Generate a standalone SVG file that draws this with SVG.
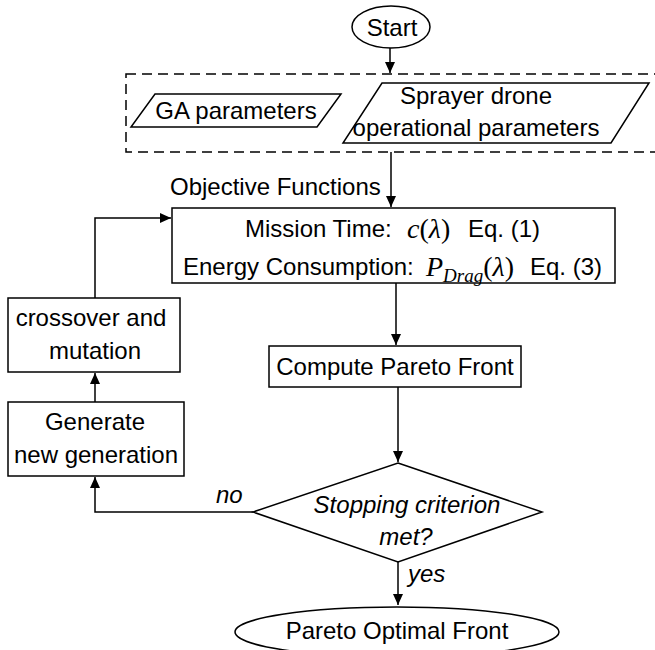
<svg xmlns="http://www.w3.org/2000/svg" width="655" height="650" viewBox="0 0 655 650">
<style>
.s{fill:#fff;stroke:#000;stroke-width:1.5}
.t{font-family:"Liberation Sans",Arial,sans-serif;font-size:24px;fill:#000}
.m{font-family:"Liberation Serif","Times New Roman",serif;font-size:28px;fill:#000}
.c{fill:none;stroke:#000;stroke-width:1.5}
</style>
<defs>
<marker id="a" markerWidth="12" markerHeight="12" refX="11" refY="5" orient="auto" markerUnits="userSpaceOnUse">
<path d="M0,0 L11,5 L0,10 Z" fill="#000"/>
</marker>
</defs>
<rect width="655" height="650" fill="#fff"/>
<g id="connectors">
<line class="c" x1="390" y1="48" x2="390" y2="73" marker-end="url(#a)"/>
<line class="c" x1="391" y1="152" x2="391" y2="207" marker-end="url(#a)"/>
<line class="c" x1="396" y1="283" x2="396" y2="345" marker-end="url(#a)"/>
<line class="c" x1="398" y1="387" x2="398" y2="462" marker-end="url(#a)"/>
<line class="c" x1="398" y1="562" x2="398" y2="605" marker-end="url(#a)"/>
<polyline class="c" points="253,512 95,512 95,477" marker-end="url(#a)"/>
<line class="c" x1="95" y1="402" x2="95" y2="373" marker-end="url(#a)"/>
<polyline class="c" points="95,298 95,218 171,218" marker-end="url(#a)"/>
<text class="t" x="216" y="503" font-style="italic">no</text>
<text class="t" x="408" y="582" font-style="italic">yes</text>
<text class="t" x="170" y="195">Objective Functions</text>
</g>
<g id="start">
<ellipse class="s" cx="391" cy="27" rx="39" ry="21"/>
<text class="t" x="392" y="36" text-anchor="middle">Start</text>
</g>
<g id="inputs">
<rect x="126" y="74" width="540" height="78" fill="none" stroke="#000" stroke-width="1.5" stroke-dasharray="10,6"/>
</g>
<g id="ga">
<polygon class="s" points="155,94 341,94 317,127 131,127"/>
<text class="t" x="236" y="119" text-anchor="middle">GA parameters</text>
</g>
<g id="sprayer">
<polygon class="s" points="382,83 649,83 611,143 343,143"/>
<text class="t" x="476" y="104" text-anchor="middle">Sprayer drone</text>
<text class="t" x="476" y="136" text-anchor="middle">operational parameters</text>
</g>
<g id="objective">
<rect class="s" x="172" y="208" width="443" height="75"/>
<text class="t" x="245" y="237">Mission Time:</text>
<text class="m" x="407" y="238"><tspan font-style="italic">c</tspan>(<tspan font-style="italic">λ</tspan>)</text>
<text class="t" x="468" y="237">Eq. (1)</text>
<text class="t" x="183" y="275">Energy Consumption:</text>
<text class="m" x="426" y="276"><tspan font-style="italic">P</tspan><tspan font-style="italic" font-size="19" dy="6">Drag</tspan><tspan dy="-6">(</tspan><tspan font-style="italic">λ</tspan>)</text>
<text class="t" x="530" y="275">Eq. (3)</text>
</g>
<g id="compute">
<rect class="s" x="269" y="346" width="252" height="41"/>
<text class="t" x="395" y="375" text-anchor="middle">Compute Pareto Front</text>
</g>
<g id="decision">
<polygon class="s" points="398,463 542,512 398,562 253,512"/>
<text class="t" x="407" y="513" text-anchor="middle" font-style="italic">Stopping criterion</text>
<text class="t" x="406" y="545" text-anchor="middle" font-style="italic">met?</text>
</g>
<g id="result">
<ellipse class="s" cx="397" cy="632" rx="162" ry="25"/>
<text class="t" x="397" y="639" text-anchor="middle">Pareto Optimal Front</text>
</g>
<g id="crossover">
<rect class="s" x="8" y="298" width="172" height="74"/>
<text class="t" x="91" y="326" text-anchor="middle">crossover and</text>
<text class="t" x="95" y="359" text-anchor="middle">mutation</text>
</g>
<g id="generate">
<rect class="s" x="8" y="402" width="176" height="74"/>
<text class="t" x="95" y="430" text-anchor="middle">Generate</text>
<text class="t" x="96" y="463" text-anchor="middle">new generation</text>
</g>
</svg>
